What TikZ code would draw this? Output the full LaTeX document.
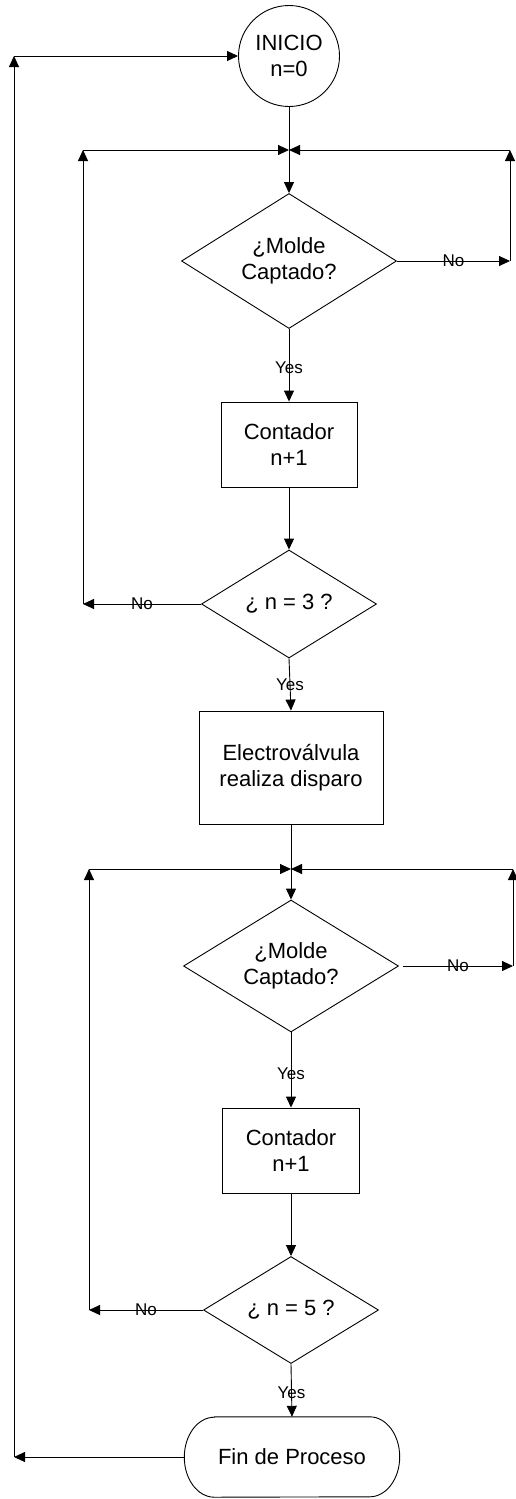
\documentclass[tikz,border=0pt]{standalone}
\usepackage{fontspec}
\setmainfont{Liberation Sans}
\usetikzlibrary{shapes.geometric,arrows.meta}
\begin{document}
\begin{tikzpicture}[x=1pt,y=-1pt,
  every node/.style={font=\fontsize{22}{26}\selectfont, align=center},
  line/.style={line width=0.9pt},
  arr/.style={line, -{Triangle[length=11pt,width=10pt]}},
  dec/.style={draw, diamond, shape aspect=1.6, inner sep=0pt, line width=0.9pt},
  proc/.style={draw, rectangle, inner sep=0pt, line width=0.9pt},
  lbl/.style={font=\fontsize{17}{20}\selectfont, inner sep=0pt}]
\useasboundingbox (0,0) rectangle (515,1499);

\node[draw, circle, minimum size=101pt, inner sep=0pt, line width=0.9pt] (ini) at (289,56) {INICIO\\n=0};
\node[dec, minimum width=215pt, minimum height=135pt] (d1) at (289,261) {¿Molde\\Captado?};
\node[proc, minimum width=136pt, minimum height=85pt] (c1) at (289,444.5) {Contador\\n+1};
\node[dec, minimum width=175pt, minimum height=108pt] (d2) at (289,604) {¿ n = 3 ?};
\node[proc, minimum width=184pt, minimum height=113pt] (ev) at (291,767.5) {Electroválvula\\realiza disparo};
\node[dec, minimum width=215pt, minimum height=132pt] (d3) at (291,966) {¿Molde\\Captado?};
\node[proc, minimum width=137pt, minimum height=85pt] (c2) at (291,1150.5) {Contador\\n+1};
\node[dec, minimum width=175pt, minimum height=107pt] (d4) at (291,1310) {¿ n = 5 ?};
\node[minimum width=215pt, minimum height=80pt, inner sep=0pt] (fin) at (292,1457) {Fin de Proceso};
\draw[line] ([xshift=30pt]fin.north west) -- ([xshift=-30pt]fin.north east)
  arc[start angle=90, end angle=-90, x radius=30pt, y radius=40pt]
  -- ([xshift=30pt]fin.south west)
  arc[start angle=270, end angle=90, x radius=30pt, y radius=40pt] -- cycle;

\coordinate (j1) at (289,150);
\coordinate (r1t) at (510,150);
\coordinate (r1b) at (510,261);
\coordinate (l1t) at (83,150);
\coordinate (l1b) at (83,604);
\coordinate (j2) at (291,869);
\coordinate (r2t) at (513,869);
\coordinate (r2b) at (513,966);
\coordinate (l2t) at (89,869);
\coordinate (l2b) at (89,1310);
\coordinate (ot) at (14,56);
\coordinate (ob) at (14,1457);

% main flow
\draw[arr] (ini.south) -- (d1.north);
\draw[arr] (d1.south) -- node[lbl, pos=0.53]{Yes} (c1.north);
\draw[arr] (c1.south) -- (d2.north);
\draw[arr] (d2.south) -- node[lbl, pos=0.51]{Yes} (ev.north);
\draw[arr] (ev.south) -- (d3.north);
\draw[arr] (d3.south) -- node[lbl, pos=0.55]{Yes} (c2.north);
\draw[arr] (c2.south) -- (d4.north);
\draw[arr] (d4.south) -- node[lbl, pos=0.55]{Yes} (fin.north);

% loop 1
\draw[arr] (d1.east) -- node[lbl]{No} (r1b);
\draw[arr] (r1b) -- (r1t);
\draw[arr] (r1t) -- (j1);
\draw[arr] (d2.west) -- node[lbl]{No} (l1b);
\draw[arr] (l1b) -- (l1t);
\draw[arr] (l1t) -- (j1);

% loop 2
\draw[arr] ([xshift=4pt]d3.east) -- node[lbl]{No} (r2b);
\draw[arr] (r2b) -- (r2t);
\draw[arr] (r2t) -- (j2);
\draw[arr] (d4.west) -- node[lbl]{No} (l2b);
\draw[arr] (l2b) -- (l2t);
\draw[arr] (l2t) -- (j2);

% outer loop
\draw[arr] (fin.west) -- (ob);
\draw[arr] (ob) -- (ot);
\draw[arr] (ot) -- (ini.west);
\end{tikzpicture}
\end{document}
